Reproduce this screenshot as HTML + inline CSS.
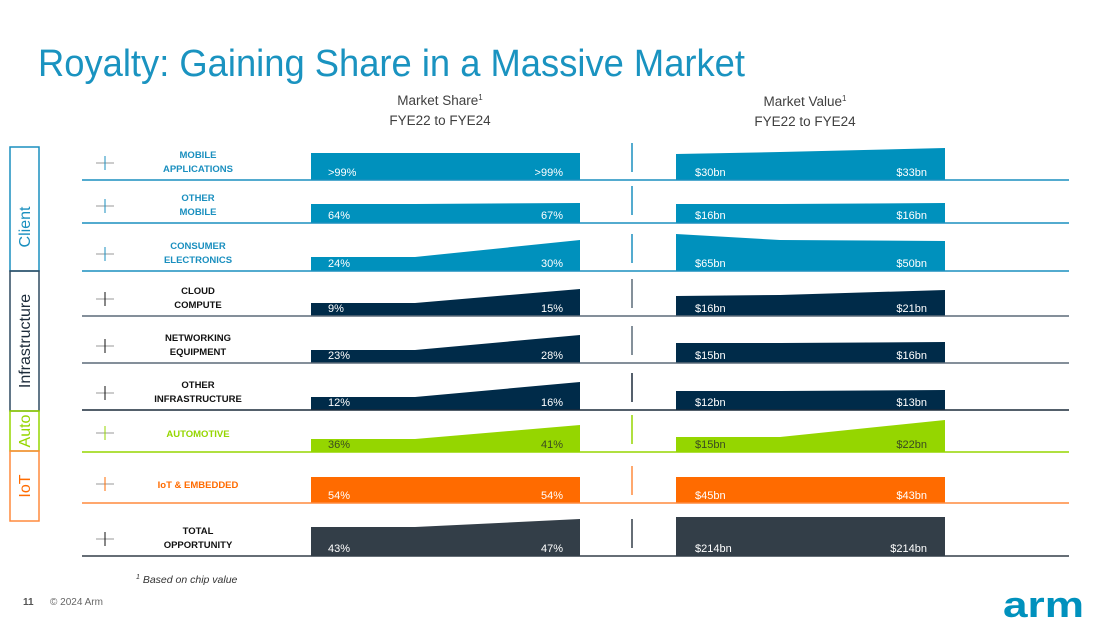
<!DOCTYPE html>
<html><head><meta charset="utf-8"><style>
html,body{margin:0;padding:0;background:#fff;}
svg{display:block;font-family:"Liberation Sans",sans-serif;}
</style></head><body>
<svg width="1113" height="632" viewBox="0 0 1113 632" xmlns="http://www.w3.org/2000/svg">
<text x="38" y="76" font-size="38" fill="#1a93c0" textLength="707" lengthAdjust="spacingAndGlyphs">Royalty: Gaining Share in a Massive Market</text>
<g font-size="13.5" fill="#404040" text-anchor="middle">
<text x="440" y="105">Market Share<tspan font-size="8" dy="-5">1</tspan></text>
<text x="440" y="125">FYE22 to FYE24</text>
<text x="805" y="106">Market Value<tspan font-size="8" dy="-5">1</tspan></text>
<text x="805" y="126">FYE22 to FYE24</text>
</g>
<g fill="none" stroke-width="1.5">
<rect x="10" y="147" width="29" height="124" stroke="#1a8fbf"/>
<rect x="10" y="271" width="29" height="140" stroke="#2f4a60"/>
<rect x="10" y="411" width="29" height="40" stroke="#95d600"/>
<rect x="10" y="451" width="29" height="70" stroke="#ff8a3d"/>
</g>
<g font-size="16" text-anchor="middle">
<text transform="translate(30,227) rotate(-90)" fill="#1a8fbf">Client</text>
<text transform="translate(30,341) rotate(-90)" fill="#1c2b3a">Infrastructure</text>
<text transform="translate(30,431) rotate(-90)" fill="#95d600">Auto</text>
<text transform="translate(30,486) rotate(-90)" fill="#ff6b00">IoT</text>
</g>
<g id="rows"></g>
<text x="136" y="583" font-size="10.5" font-style="italic" fill="#333"><tspan font-size="7" dy="-4">1</tspan><tspan dy="4"> Based on chip value</tspan></text>
<text x="23" y="605" font-size="10" fill="#555" font-weight="bold">11</text>
<text x="50" y="605" font-size="10" fill="#666">© 2024 Arm</text>
<text x="1003" y="617" font-size="36" font-weight="bold" fill="#0091bd" textLength="81" lengthAdjust="spacingAndGlyphs">arm</text>
</svg>
<script>
const rows=[
 {b:180,c:"#0091bd",lc:"#1a8fbf",tc:"#1a8fbf",n:["MOBILE","APPLICATIONS"],L:[153,153,153],R:[154,152,148],l:[">99%",">99%"],r:["$30bn","$33bn"]},
 {b:223,c:"#0091bd",lc:"#1a8fbf",tc:"#1a8fbf",n:["OTHER","MOBILE"],L:[204,204,203],R:[204,204,203],l:["64%","67%"],r:["$16bn","$16bn"]},
 {b:271,c:"#0091bd",lc:"#1a8fbf",tc:"#1a8fbf",n:["CONSUMER","ELECTRONICS"],L:[257,257,240],R:[234,240,241],l:["24%","30%"],r:["$65bn","$50bn"]},
 {b:316,c:"#002b49",lc:"#5b6a78",tc:"#111",n:["CLOUD","COMPUTE"],L:[303,303,289],R:[296,295,290],l:["9%","15%"],r:["$16bn","$21bn"]},
 {b:363,c:"#002b49",lc:"#5b6a78",tc:"#111",n:["NETWORKING","EQUIPMENT"],L:[350,350,335],R:[343,343,342],l:["23%","28%"],r:["$15bn","$16bn"]},
 {b:410,c:"#002b49",lc:"#1c2b3a",tc:"#111",n:["OTHER","INFRASTRUCTURE"],L:[397,397,382],R:[391,391,390],l:["12%","16%"],r:["$12bn","$13bn"]},
 {b:452,c:"#95d600",lc:"#95d600",tc:"#95d600",n:["AUTOMOTIVE"],L:[439,439,425],R:[437,437,420],l:["36%","41%"],r:["$15bn","$22bn"],dark:1},
 {b:503,c:"#ff6b00",lc:"#ff8a3d",tc:"#ff6b00",n:["IoT & EMBEDDED"],L:[477,477,477],R:[477,477,477],l:["54%","54%"],r:["$45bn","$43bn"]},
 {b:556,c:"#333e48",lc:"#333e48",tc:"#111",n:["TOTAL","OPPORTUNITY"],L:[527,527,519],R:[517,517,517],l:["43%","47%"],r:["$214bn","$214bn"]}
];
let s="";
rows.forEach(r=>{
 const b=r.b;
 s+=`<path d="M311 ${b} L311 ${r.L[0]} L415 ${r.L[1]} L580 ${r.L[2]} L580 ${b}Z" fill="${r.c}"/>`;
 s+=`<path d="M676 ${b} L676 ${r.R[0]} L780 ${r.R[1]} L945 ${r.R[2]} L945 ${b}Z" fill="${r.c}"/>`;
 s+=`<line x1="82" y1="${b}" x2="1069" y2="${b}" stroke="${r.lc}" stroke-width="1.5"/>`;
 s+=`<line x1="632" y1="${b-37}" x2="632" y2="${b-8}" stroke="${r.lc}" stroke-width="1.5"/>`;
 const tcol=r.dark?"#3a4a20":"#fff";
 s+=`<g font-size="11" fill="${tcol}"><text x="328" y="${b-4}">${r.l[0]}</text><text x="563" y="${b-4}" text-anchor="end">${r.l[1]}</text>`;
 s+=`<text x="695" y="${b-4}">${r.r[0]}</text><text x="927" y="${b-4}" text-anchor="end">${r.r[1]}</text></g>`;
 const cy = r.n.length==2? b-17 : b-19;
 s+=`<line x1="96" y1="${cy}" x2="114" y2="${cy}" stroke="#999" stroke-width="1"/><line x1="105" y1="${cy-7}" x2="105" y2="${cy+7}" stroke="${r.tc}" stroke-width="1"/>`;
 if(r.n.length==2){
  s+=`<g font-size="9.5" font-weight="bold" fill="${r.tc}" text-anchor="middle"><text x="198" y="${b-22}">${r.n[0]}</text><text x="198" y="${b-8}">${r.n[1]}</text></g>`;
 } else {
  s+=`<text x="198" y="${b-15}" font-size="9.5" font-weight="bold" fill="${r.tc}" text-anchor="middle">${r.n[0].replace('&','&amp;')}</text>`;
 }
});
document.getElementById("rows").innerHTML=s;
</script>
</body></html>
